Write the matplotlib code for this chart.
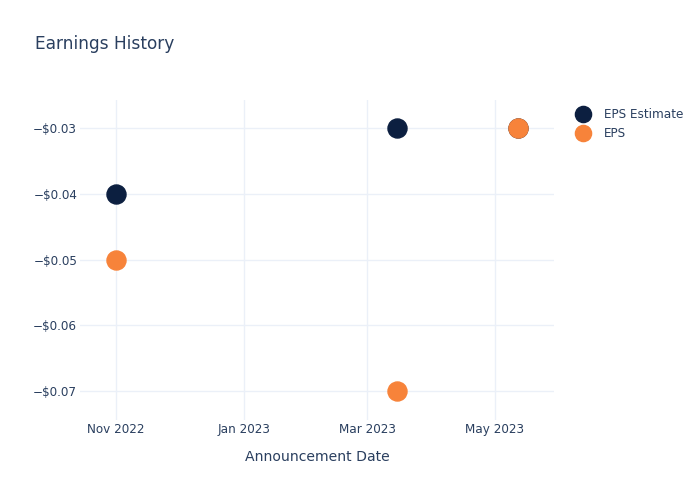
import matplotlib
matplotlib.use("Agg")
import matplotlib.pyplot as plt
import matplotlib.dates as mdates
from matplotlib.ticker import FuncFormatter
import numpy as np

dates = np.array(["2022-11-01", "2023-03-15", "2023-05-12"], dtype="datetime64[D]")
eps_estimate = [-0.04, -0.03, -0.03]
eps_actual = [-0.05, -0.07, -0.03]

navy = "#0c1f40"
orange = "#f7833a"
txt = "#2a3f5f"
grid = "#ebf0f8"

fig = plt.figure(figsize=(7, 5), dpi=100)
ax = fig.add_axes([80 / 700, 80 / 500, 474 / 700, 320 / 500])

ax.plot(dates, eps_estimate, "o", ms=13.7, color=navy, label="EPS Estimate", zorder=3)
ax.plot(dates, eps_actual, "o", ms=13.7, color=orange, label="EPS", zorder=4)

ax.set_xlim(np.datetime64("2022-10-14T19"), np.datetime64("2023-05-29T05"))
ax.set_ylim(-0.07441, -0.02574)
ax.set_yticks([-0.07, -0.06, -0.05, -0.04, -0.03])
ax.yaxis.set_major_formatter(FuncFormatter(lambda v, p: "\u2212$%.2f" % abs(v)))
ax.xaxis.set_major_locator(mdates.MonthLocator(bymonth=[1, 3, 5, 11]))
ax.xaxis.set_major_formatter(mdates.DateFormatter("%b %Y"))

ax.grid(True, color=grid, lw=1)
ax.set_axisbelow(True)
for s in ax.spines.values():
    s.set_visible(False)
ax.tick_params(length=0, labelsize=8.64, labelcolor=txt, pad=2)
ax.tick_params(axis="y", pad=2)

ax.set_xlabel("Announcement Date", fontsize=10.08, color=txt, labelpad=10.5)
fig.text(35 / 700, 1 - 44 / 500, "Earnings History", fontsize=12.24, color=txt, va="center")

fig.legend(loc="upper left", bbox_to_anchor=(572 / 700, 1 - 103 / 500), frameon=False,
           fontsize=8.64, labelcolor=txt, handletextpad=1.25, labelspacing=0.5,
           borderaxespad=0, handlelength=1.0, markerscale=0.85)

fig.savefig("out.png", dpi=100)
